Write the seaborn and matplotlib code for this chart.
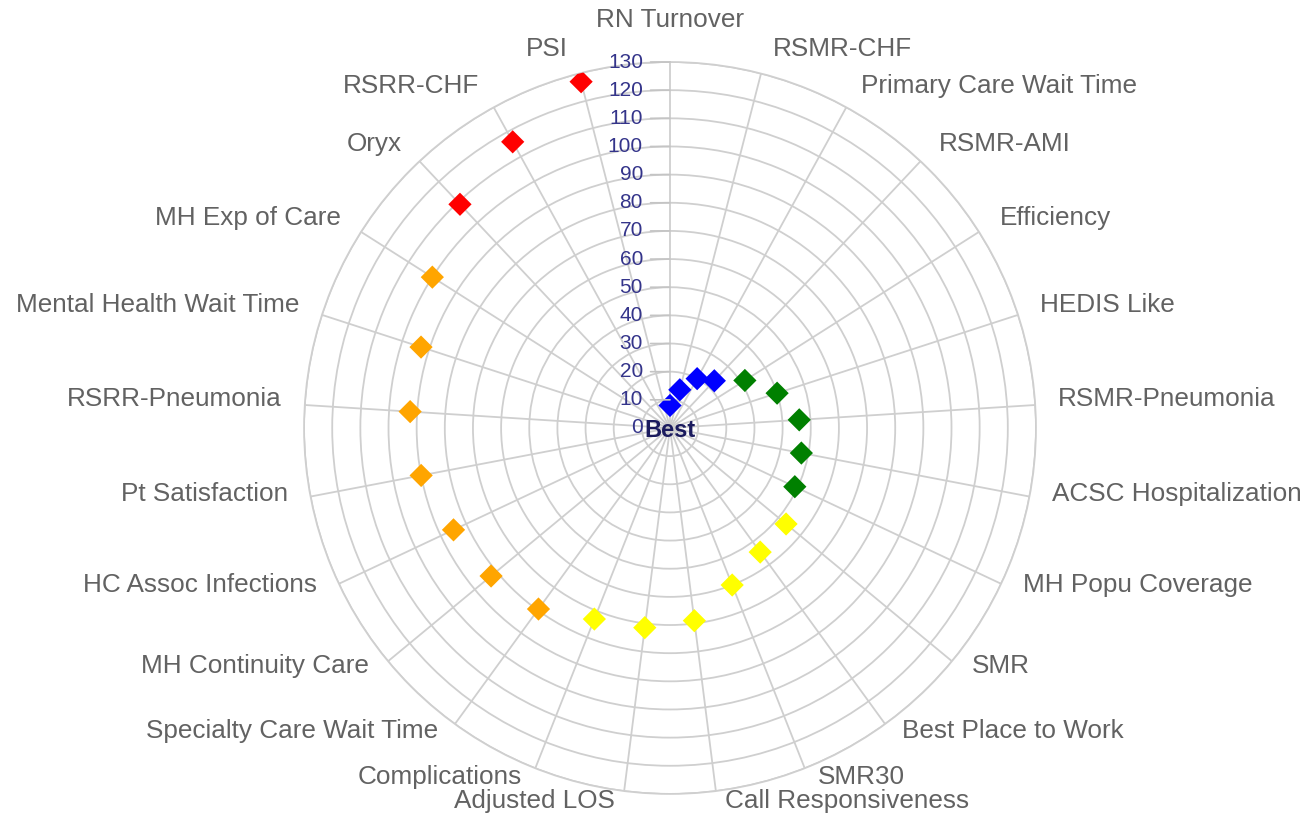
import numpy as np
import pandas as pd
import matplotlib.pyplot as plt
import seaborn as sns

# Data
categories = [
    "RN Turnover", "RSMR-CHF", "Primary Care Wait Time", "RSMR-AMI",
    "Efficiency", "HEDIS Like", "RSMR-Pneumonia", "ACSC Hospitalization",
    "MH Popu Coverage", "SMR", "Best Place to Work", "SMR30",
    "Call Responsiveness", "Adjusted LOS", "Complications",
    "Specialty Care Wait Time", "MH Continuity Care", "HC Assoc Infections",
    "Pt Satisfaction", "RSRR-Pneumonia", "Mental Health Wait Time",
    "MH Exp of Care", "Oryx", "RSRR-CHF", "PSI",
]
values = [8, 14, 20, 23, 31.5, 40, 46, 47.5, 49, 53.5, 54.5, 60, 69,
          71.5, 73, 79.5, 82.5, 85, 90, 92.5, 93, 100, 109, 116, 127]
groups = ["blue"] * 4 + ["green"] * 5 + ["yellow"] * 6 + ["orange"] * 7 + ["red"] * 3
r_ticks = list(range(0, 140, 10))

palette = {"blue": "#0000ff", "green": "#008000", "yellow": "#ffff00",
           "orange": "#ffa500", "red": "#ff0000"}

# Style
sns.set_style("white")
plt.rcParams["font.family"] = ["Liberation Sans", "DejaVu Sans"]

n = len(categories)
theta = np.arange(n) * 2 * np.pi / n
df = pd.DataFrame({"theta": theta, "value": values, "group": groups})

fig = plt.figure(figsize=(13.14, 8.22), dpi=100)
ax = fig.add_axes([0.2314, 0.0341, 0.557, 0.8905], projection="polar")
ax.set_theta_zero_location("N")
ax.set_theta_direction(-1)
ax.set_ylim(0, 130)
ax.set_xticks(theta)
ax.set_xticklabels([])
ax.set_yticks(r_ticks)
ax.set_yticklabels([])
ax.tick_params(length=0)
ax.grid(True, color="#cfcfcf", linewidth=1.3)
ax.spines["polar"].set_color("#cfcfcf")
ax.spines["polar"].set_linewidth(1.3)
ax.set_axisbelow(True)

sns.scatterplot(
    data=df, x="theta", y="value", hue="group", palette=palette,
    marker="D", s=140, edgecolor="none", legend=False, ax=ax, zorder=3
)
ax.set_xlabel("")
ax.set_ylabel("")

# Category labels around the circle
for t, lab in zip(theta, categories):
    s, c = np.sin(t), np.cos(t)
    if abs(s) < 1e-6:
        ha = "center"
        dx, dy = 0, 30
    else:
        ha = "left" if s > 0 else "right"
        dx = 11 * s + 5.5 * np.sign(s)
        dy = 11 * c + 3.6 + 3.5 * max(c, 0) ** 4
    ax.annotate(lab, xy=(t, 130), xytext=(dx, dy), textcoords="offset points",
                ha=ha, va="center", fontsize=18.8, color="#626262",
                annotation_clip=False)

# Radial axis labels and ticks along the top spoke
for v in r_ticks:
    ax.annotate("", xy=(0, v), xytext=(-14, 0), textcoords="offset points",
                arrowprops=dict(arrowstyle="-", color="#c4c4c4", lw=1.2,
                                shrinkA=0, shrinkB=0))
    ax.annotate(str(v), xy=(0, v), xytext=(-19.5, 0), textcoords="offset points",
                ha="right", va="center", fontsize=15, color="#34348a",
                annotation_clip=False)

# Centre label
ax.annotate("Best", xy=(0, 0), xytext=(0, -1.5), textcoords="offset points",
            ha="center", va="center", fontsize=17, fontweight="bold",
            color="#1b1b5e", zorder=5, annotation_clip=False)

plt.savefig("out.png", dpi=100)
plt.close()
